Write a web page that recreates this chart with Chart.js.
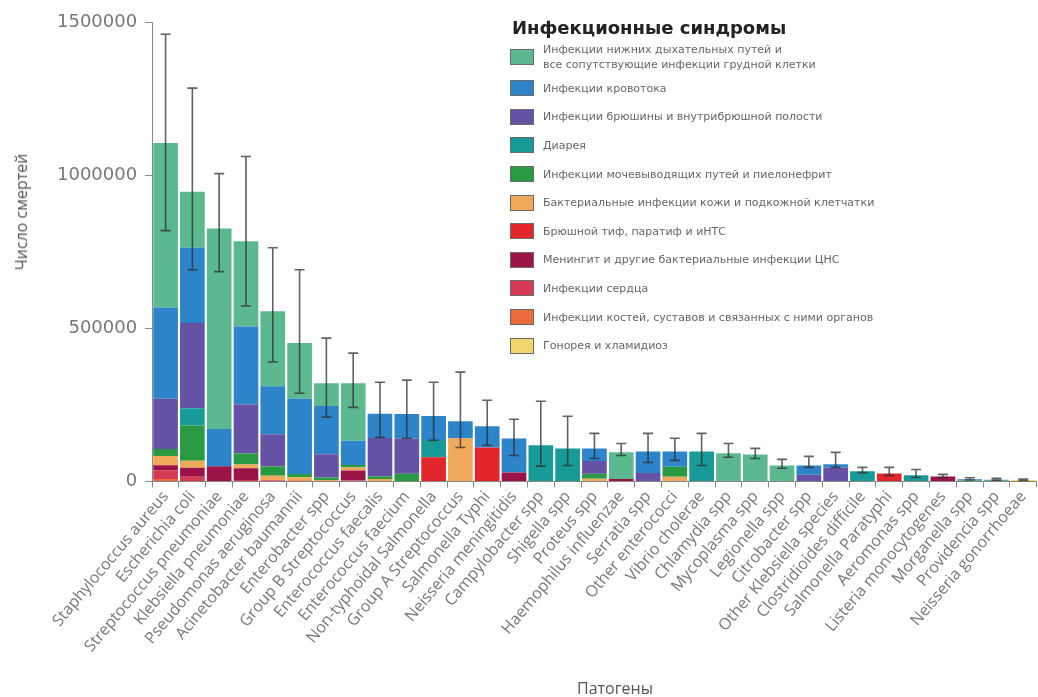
<!DOCTYPE html>
<html>
<head>
<meta charset="utf-8">
<script src="https://cdn.jsdelivr.net/npm/chart.js@4.4.0/dist/chart.umd.min.js"></script>
<style>
  body { margin: 0; background: #fff; }
  #wrap { position: relative; width: 1038px; height: 697px; }
  #deathsChart { position: absolute; left: 0; top: 0; }
  #legendBox { position: absolute; left: 510px; top: 17px; font-family: "DejaVu Sans", sans-serif; }
  #legendBox .ttl { font-size: 18px; font-weight: bold; color: #222; margin-bottom: 5px; margin-left: 2px; }
  #legendBox .row { display: flex; align-items: center; height: 28.6px; }
  #legendBox .sw { width: 24px; height: 16px; border: 1px solid #6a6a6a; box-sizing: border-box; margin-right: 9px; flex: none; }
  #legendBox .txt { font-size: 11px; color: #666; line-height: 15px; }
  .axTitle { position: absolute; font-family: "Open Sans", sans-serif; font-size: 16px; color: #555; white-space: nowrap; }
  #yTitle { left: 21px; top: 212px; transform: translate(-50%, -50%) rotate(-90deg); }
  #xTitle { left: 615px; top: 688px; transform: translate(-50%, -50%); }
</style>
</head>
<body>
<div id="wrap">
  <canvas id="deathsChart" width="1038" height="697"></canvas>
  <div id="legendBox"></div>
  <div class="axTitle" id="yTitle">Число смертей</div>
  <div class="axTitle" id="xTitle">Патогены</div>
</div>
<script>
const pathogens = ["Staphylococcus aureus", "Escherichia coli", "Streptococcus pneumoniae", "Klebsiella pneumoniae",
  "Pseudomonas aeruginosa", "Acinetobacter baumannii", "Enterobacter spp", "Group B Streptococcus",
  "Enterococcus faecalis", "Enterococcus faecium", "Non-typhoidal Salmonella", "Group A Streptococcus",
  "Salmonella Typhi", "Neisseria meningitidis", "Campylobacter spp", "Shigella spp", "Proteus spp",
  "Haemophilus influenzae", "Serratia spp", "Other enterococci", "Vibrio cholerae", "Chlamydia spp",
  "Mycoplasma spp", "Legionella spp", "Citrobacter spp", "Other Klebsiella species", "Clostridioides difficile",
  "Salmonella Paratyphi", "Aeromonas spp", "Listeria monocytogenes", "Morganella spp", "Providencia spp",
  "Neisseria gonorrhoeae"];

const syndromes = ["Инфекции нижних дыхательных путей и\nвсе сопутствующие инфекции грудной клетки",
  "Инфекции кровотока", "Инфекции брюшины и внутрибрюшной полости", "Диарея",
  "Инфекции мочевыводящих путей и пиелонефрит", "Бактериальные инфекции кожи и подкожной клетчатки",
  "Брюшной тиф, паратиф и иНТС", "Менингит и другие бактериальные инфекции ЦНС", "Инфекции сердца",
  "Инфекции костей, суставов и связанных с ними органов", "Гонорея и хламидиоз"];

const syndromeColors = ["#5cb88e", "#2d84c9", "#6552a4", "#179a98", "#2a9a42", "#f0a95a",
  "#e3262b", "#9b1448", "#d63a52", "#eb6b3c", "#f3d66e"];

// deaths per pathogen, one array per syndrome (same order as syndromes)
const lri = [537000, 183000, 655000, 278000, 245000, 182000, 75000, 188000, 0, 0, 0, 0, 0, 0, 0, 0, 0,
  87000, 0, 0, 0, 92000, 88000, 52000, 0, 0, 0, 0, 0, 0, 0, 0, 0];
const bloodstream = [298000, 246000, 121000, 255000, 157000, 246000, 157000, 79000, 79000, 80000, 79000, 56000,
  69000, 111000, 0, 0, 41000, 0, 70000, 50000, 0, 0, 0, 0, 30000, 10000, 0, 0, 0, 0, 4000, 3000, 0];
const intraAbdominal = [164000, 278000, 0, 160000, 105000, 0, 76000, 0, 125000, 115000, 0, 0, 0, 0, 0, 0,
  42000, 0, 28000, 0, 0, 0, 0, 0, 22000, 46000, 0, 0, 0, 0, 0, 0, 0];
const diarrhoea = [0, 56000, 0, 0, 0, 0, 0, 0, 0, 0, 56000, 0, 0, 0, 118000, 108000, 0, 0, 0, 0, 98000,
  0, 0, 0, 0, 0, 33000, 0, 20000, 0, 0, 0, 0];
const uti = [23000, 115000, 0, 36000, 30000, 10000, 8000, 8000, 9000, 25000, 0, 0, 0, 0, 0, 0, 16000, 0, 0,
  33000, 0, 0, 0, 0, 0, 0, 0, 0, 0, 0, 3000, 3000, 0];
const skin = [30000, 23000, 0, 12000, 15000, 10000, 5000, 10000, 8000, 0, 0, 141000, 0, 0, 0, 0, 9000, 0, 0,
  15000, 0, 0, 0, 0, 0, 0, 0, 0, 0, 0, 0, 0, 0];
const typhoid = [0, 0, 0, 0, 0, 0, 0, 0, 0, 0, 79000, 0, 111000, 0, 0, 0, 0, 0, 0, 0, 0, 0, 0, 0, 0, 0, 0,
  26000, 0, 0, 0, 0, 0];
const meningitis = [16000, 30000, 50000, 38000, 0, 0, 0, 33000, 0, 0, 0, 0, 0, 29000, 0, 0, 0, 8000, 0, 0,
  0, 0, 0, 0, 0, 0, 0, 0, 0, 16000, 0, 0, 0];
const cardiac = [29000, 15000, 0, 5000, 4000, 0, 0, 3000, 0, 0, 0, 0, 0, 0, 0, 0, 0, 0, 0, 0, 0, 0, 0, 0,
  0, 0, 0, 0, 0, 0, 0, 0, 0];
const bone = [8000, 0, 0, 0, 0, 4000, 0, 0, 0, 0, 0, 0, 0, 0, 0, 0, 0, 0, 0, 0, 0, 0, 0, 0, 0, 0, 0, 0, 0,
  0, 0, 0, 0];
const gonorrhoea = [0, 0, 0, 0, 0, 0, 0, 0, 0, 0, 0, 0, 0, 0, 0, 0, 0, 0, 0, 0, 0, 0, 0, 0, 0, 0, 0, 0, 0,
  0, 0, 0, 5000];

// uncertainty interval of the total
const errHigh = [1460000, 1284000, 1005000, 1061000, 763000, 691000, 468000, 419000, 324000, 331000, 324000,
  357000, 265000, 203000, 262000, 213000, 157000, 124000, 157000, 141000, 157000, 124000, 108000, 72000,
  82000, 95000, 46000, 46000, 39000, 23000, 12000, 10000, 8000];
const errLow = [819000, 691000, 685000, 573000, 390000, 288000, 210000, 242000, 144000, 141000, 134000,
  111000, 118000, 85000, 50000, 52000, 75000, 85000, 62000, 69000, 52000, 79000, 75000, 43000, 46000,
  46000, 29000, 20000, 13000, 13000, 5000, 4000, 3000];

const yTicks = [0, 500000, 1000000, 1500000];

const seriesValues = [lri, bloodstream, intraAbdominal, diarrhoea, uti, skin, typhoid, meningitis, cardiac, bone, gonorrhoea];

function buildLegend() {
  const box = document.getElementById("legendBox");
  let html = '<div class="ttl">Инфекционные синдромы</div>';
  syndromes.forEach((name, i) => {
    const h = i === 0 ? ' style="height:34px;margin-top:-3px"' : '';
    html += `<div class="row"${h}><div class="sw" style="background:${syndromeColors[i]}"></div>` +
      `<div class="txt">${name.replace("\n", "<br>")}</div></div>`;
  });
  box.innerHTML = html;
}

const errorBars = {
  id: 'errorBars',
  afterDatasetsDraw(chart) {
    const ctx = chart.ctx;
    const xs = chart.scales.x, ys = chart.scales.y;
    ctx.save();
    ctx.strokeStyle = 'rgba(45,45,45,0.75)';
    ctx.lineWidth = 1.6;
    errHigh.forEach((hi, i) => {
      const px = xs.getPixelForValue(i);
      const top = ys.getPixelForValue(hi);
      const bot = ys.getPixelForValue(errLow[i]);
      ctx.beginPath();
      ctx.moveTo(px, top); ctx.lineTo(px, bot);
      ctx.moveTo(px - 5, top); ctx.lineTo(px + 5, top);
      ctx.moveTo(px - 5, bot); ctx.lineTo(px + 5, bot);
      ctx.stroke();
    });
    ctx.restore();
  }
};

function drawChart() {
  // stack bottom-up in reverse legend order
  const datasets = seriesValues.map((vals, i) => ({
    label: syndromes[i].replace("\n", " "),
    data: vals,
    backgroundColor: syndromeColors[i],
    borderWidth: 0,
    barPercentage: 1,
    categoryPercentage: 0.92
  })).reverse();

  const ctx = document.getElementById('deathsChart').getContext('2d');
  new Chart(ctx, {
    type: 'bar',
    data: { labels: pathogens, datasets: datasets },
    options: {
      responsive: false,
      animation: false,
      layout: { padding: { left: 49, top: 22, right: 0, bottom: 41 } },
      plugins: { legend: { display: false }, tooltip: { enabled: false } },
      scales: {
        x: {
          stacked: true,
          grid: { drawOnChartArea: false, offset: true, tickLength: 6, color: '#888' },
          border: { color: '#888' },
          ticks: {
            autoSkip: false, minRotation: 50, maxRotation: 50, padding: 0,
            color: '#777', font: { family: 'Open Sans', size: 16 }
          }
        },
        y: {
          stacked: true,
          min: 0,
          max: 1500000,
          afterBuildTicks(axis) { axis.ticks = yTicks.map(v => ({ value: v })); },
          grid: { drawOnChartArea: false, tickLength: 7, color: '#888' },
          border: { color: '#888' },
          ticks: {
            color: '#777', padding: 8,
            font: { family: 'DejaVu Sans', size: 18 },
            callback: v => String(v)
          }
        }
      }
    },
    plugins: [errorBars]
  });
}

window.onload = function () {
  buildLegend();
  drawChart();
};
</script>
</body>
</html>
